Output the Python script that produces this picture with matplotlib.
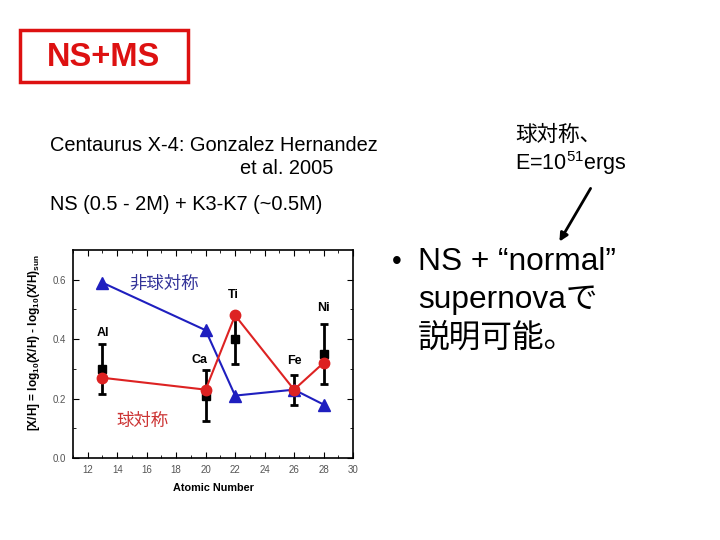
import matplotlib
matplotlib.use("Agg")
import matplotlib.pyplot as plt
from matplotlib.patches import Rectangle, FancyArrowPatch

plt.rcParams['font.family'] = ['Liberation Sans', 'Noto Sans CJK JP', 'DejaVu Sans']
plt.rcParams['mathtext.default'] = 'regular'

# データ
z = [13, 20, 22, 26, 28]
elements = ["Al", "Ca", "Ti", "Fe", "Ni"]
obs = [0.30, 0.21, 0.40, 0.23, 0.35]
obs_err = [0.085, 0.085, 0.085, 0.05, 0.10]
sph = [0.27, 0.23, 0.48, 0.23, 0.32]       # 球対称
asph = [0.59, 0.43, 0.21, 0.23, 0.18]      # 非球対称
label_x = [13, 19.6, 21.9, 26.0, 28.0]
label_y = [0.42, 0.33, 0.55, 0.325, 0.505]

fig = plt.figure(figsize=(7.2, 5.4), dpi=100)

# タイトル枠
fig.patches.append(Rectangle((20 / 720, 1 - 82 / 540), 168 / 720, 52 / 540,
                             transform=fig.transFigure, fill=False,
                             edgecolor='#dd1111', linewidth=2.5))
fig.text(104 / 720, 1 - 58 / 540, "NS+MS", color='#dd1111', fontsize=23.5,
         fontweight='bold', ha='center', va='center')

fig.text(50 / 720, 1 - 145 / 540, "Centaurus X-4: Gonzalez Hernandez",
         fontsize=14.4, ha='left', va='center')
fig.text(287 / 720, 1 - 168 / 540, "et al. 2005", fontsize=14.4,
         ha='center', va='center')
fig.text(50 / 720, 1 - 205 / 540, "NS (0.5 - 2M) + K3-K7 (~0.5M)",
         fontsize=14.4, ha='left', va='center')

fig.text(515 / 720, 1 - 135 / 540, "球対称、", fontsize=15.5, ha='left', va='center')
fig.text(515 / 720, 1 - 163 / 540, r"E=10$^{51}$ergs", fontsize=15.5,
         ha='left', va='center')
fig.patches.append(FancyArrowPatch(
    (592 / 720, 1 - 186 / 540), (558 / 720, 1 - 244 / 540),
    transform=fig.transFigure, arrowstyle='-|>', mutation_scale=12,
    linewidth=2, color='black'))

fig.text(392 / 720, 1 - 262 / 540, "•", fontsize=20, ha='left', va='center')
fig.text(418 / 720, 1 - 262 / 540, "NS + “normal”", fontsize=22.8,
         ha='left', va='center')
fig.text(418 / 720, 1 - 300 / 540, "supernovaで", fontsize=22.8,
         ha='left', va='center')
fig.text(418 / 720, 1 - 338 / 540, "説明可能。", fontsize=22.8,
         ha='left', va='center')

# グラフ
ax = fig.add_axes([73 / 720, 82 / 540, 280 / 720, 208 / 540])
ax.errorbar(z, obs, yerr=obs_err, fmt='s', color='black', ms=6,
            elinewidth=2, capsize=3, capthick=2, zorder=2)
ax.plot(z, asph, '-^', color='#1f1fbf', ms=8, lw=1.5, zorder=3)
ax.plot(z, sph, '-o', color='#dd2222', ms=7.5, lw=1.5, zorder=4)

for x, y, s in zip(label_x, label_y, elements):
    ax.text(x, y, s, fontsize=9, fontweight='bold', ha='center', va='center')
ax.text(17.2, 0.587, "非球対称", fontsize=12.5, color='#333399',
        ha='center', va='center')
ax.text(15.7, 0.124, "球対称", fontsize=12.5, color='#cc3333',
        ha='center', va='center')

ax.set_xlim(11, 30)
ax.set_ylim(0, 0.7)
ax.set_xticks(range(12, 31, 2))
ax.set_xticks(range(11, 30, 2), minor=True)
ax.set_yticks([0.0, 0.2, 0.4, 0.6])
ax.set_yticks([0.1, 0.3, 0.5], minor=True)
ax.set_yticklabels(["0.0", "0.2", "0.4", "0.6"])
ax.tick_params(which='both', direction='in', top=True, right=True,
               labelsize=7, labelcolor='#555555')
ax.tick_params(which='major', length=4, pad=5)
ax.tick_params(which='minor', length=2)
for sp in ax.spines.values():
    sp.set_linewidth(1.2)
ax.set_xlabel("Atomic Number", fontsize=7.8, fontweight='bold', labelpad=6)
ax.set_ylabel(r"[X/H] = log$_{10}$(X/H) - log$_{10}$(X/H)$_{sun}$",
              fontsize=8.5, fontweight='bold')
ax.yaxis.set_label_coords(-0.11, 0.555)

fig.savefig("out.png", dpi=100)
